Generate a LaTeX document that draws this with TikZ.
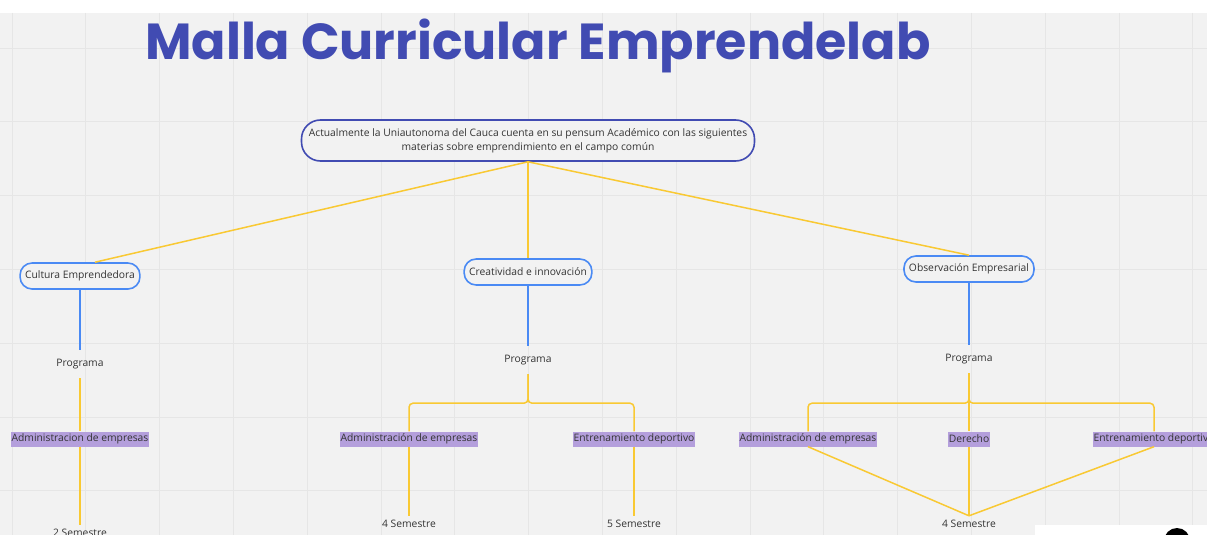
\documentclass[tikz,border=0pt]{standalone}
\usepackage{fontspec}
\setmainfont{Open Sans}
\newfontfamily\titlefont{Poppins}
\usetikzlibrary{positioning}
\definecolor{fondo}{HTML}{F2F2F2}
\definecolor{rejilla}{HTML}{E6E6E6}
\definecolor{indigo}{HTML}{414BB2}
\definecolor{azul}{HTML}{4A8AF4}
\definecolor{amarillo}{HTML}{F9C933}
\definecolor{lila}{HTML}{B49FDC}
\definecolor{texto}{HTML}{333333}

\begin{document}
\begin{tikzpicture}[x=1pt, y=-1pt, node distance=60pt,
    every node/.style={font=\fontsize{10.3}{14}\selectfont, text=texto},
    raiz/.style={draw=indigo, line width=1.6pt, fill=fondo, rounded corners=19pt,
        minimum width=453pt, minimum height=41pt, align=center, inner sep=0pt},
    area/.style={draw=azul, line width=1.6pt, fill=fondo, rounded corners=12pt,
        minimum height=26pt, inner xsep=5pt},
    programa/.style={minimum height=28pt, inner sep=0pt},
    carrera/.style={fill=lila, minimum height=15pt, inner xsep=1pt, inner ysep=0pt},
    semestre/.style={minimum height=16pt, inner sep=0pt},
    enlace/.style={draw=amarillo, line width=1.5pt},
    bajada/.style={draw=azul, line width=1.5pt}]
                \useasboundingbox (0,0) rectangle (1207,535);
                \fill[white] (0,0) rectangle (1207,535);
                \fill[fondo] (0,13) rectangle (1207,535);
                % rejilla del tablero
                \foreach \i in {0,...,16}
                    \draw[rejilla, line width=0.8pt] ({12+73.8*\i},13) -- ++(0,522);
                \foreach \j in {0,...,6}
                    \draw[rejilla, line width=0.8pt] (0,{48+73.8*\j}) -- ++(1207,0);
                \node[anchor=base west, inner sep=0pt, text=indigo] (titulo) at (145,60)
                    {\resizebox{785pt}{!}{\titlefont\bfseries Malla Curricular Emprendelab}};
                \node[raiz] (raiz) at (528,140.5) {Actualmente la Uniautonoma del Cauca cuenta en su pensum Académico con las siguientes\\materias sobre emprendimiento en el campo común};
                \node[area] (cultura) at (80,276) {Cultura Emprendedora};
                \node[area] (creatividad) at (528,272) {Creatividad e innovación};
                \node[area] (observacion) at (969,269) {Observación Empresarial};
                \node[programa, below=of cultura] (prog1) {Programa};
                \node[programa, below=of creatividad] (prog2) {Programa};
                \node[programa, below=62pt of observacion] (prog3) {Programa};
                \node[carrera] (adm1) at (80,439) {Administracion de empresas};
                \node[carrera] (adm2) at (409,439) {Administración de empresas};
                \node[carrera] (ent2) at (634,439) {Entrenamiento deportivo};
                \node[carrera] (adm3) at (808,439) {Administración de empresas};
                \node[carrera] (der3) at (969,439) {Derecho};
                \node[carrera] (ent3) at (1154,439) {Entrenamiento deportivo};
                \node[semestre] (sem1) at (80,533) {2 Semestre};
                \node[semestre] (sem2) at (409,524) {4 Semestre};
                \node[semestre] (sem3) at (634,524) {5 Semestre};
                \node[semestre] (sem4) at (969,524) {4 Semestre};
                \draw[enlace] (raiz.south) -- ([xshift=15pt]cultura.north);
                \draw[enlace] (raiz.south) -- (creatividad.north);
                \draw[enlace] (raiz.south) -- (observacion.north);
                \draw[bajada] (cultura.south) -- (prog1.north);
                \draw[bajada] (creatividad.south) -- (prog2.north);
                \draw[bajada] (observacion.south) -- (prog3.north);
                \draw[enlace] (prog1.south) -- (adm1.north);
                \draw[enlace] (adm1.south) -- (sem1.north);
                \draw[enlace, rounded corners=4pt] (prog2.south) -- ++(0,29) -| (adm2.north);
                \draw[enlace, rounded corners=4pt] (prog2.south) -- ++(0,29) -| (ent2.north);
                \draw[enlace] (adm2.south) -- (sem2.north);
                \draw[enlace] (ent2.south) -- (sem3.north);
                \draw[enlace, rounded corners=4pt] (prog3.south) -- ++(0,30) -| (adm3.north);
                \draw[enlace, rounded corners=4pt] (prog3.south) -- ++(0,30) -| (ent3.north);
                \draw[enlace] (prog3.south) -- (der3.north);
                \draw[enlace] (adm3.south) -- (sem4.north);
                \draw[enlace] (der3.south) -- (sem4.north);
                \draw[enlace] (ent3.south) -- (sem4.north);
                % panel de la esquina
                \fill[white] (1035,525) rectangle (1207,535);
                \fill[black] (1177,541) circle (13pt);
            \end{tikzpicture}
\end{document}
